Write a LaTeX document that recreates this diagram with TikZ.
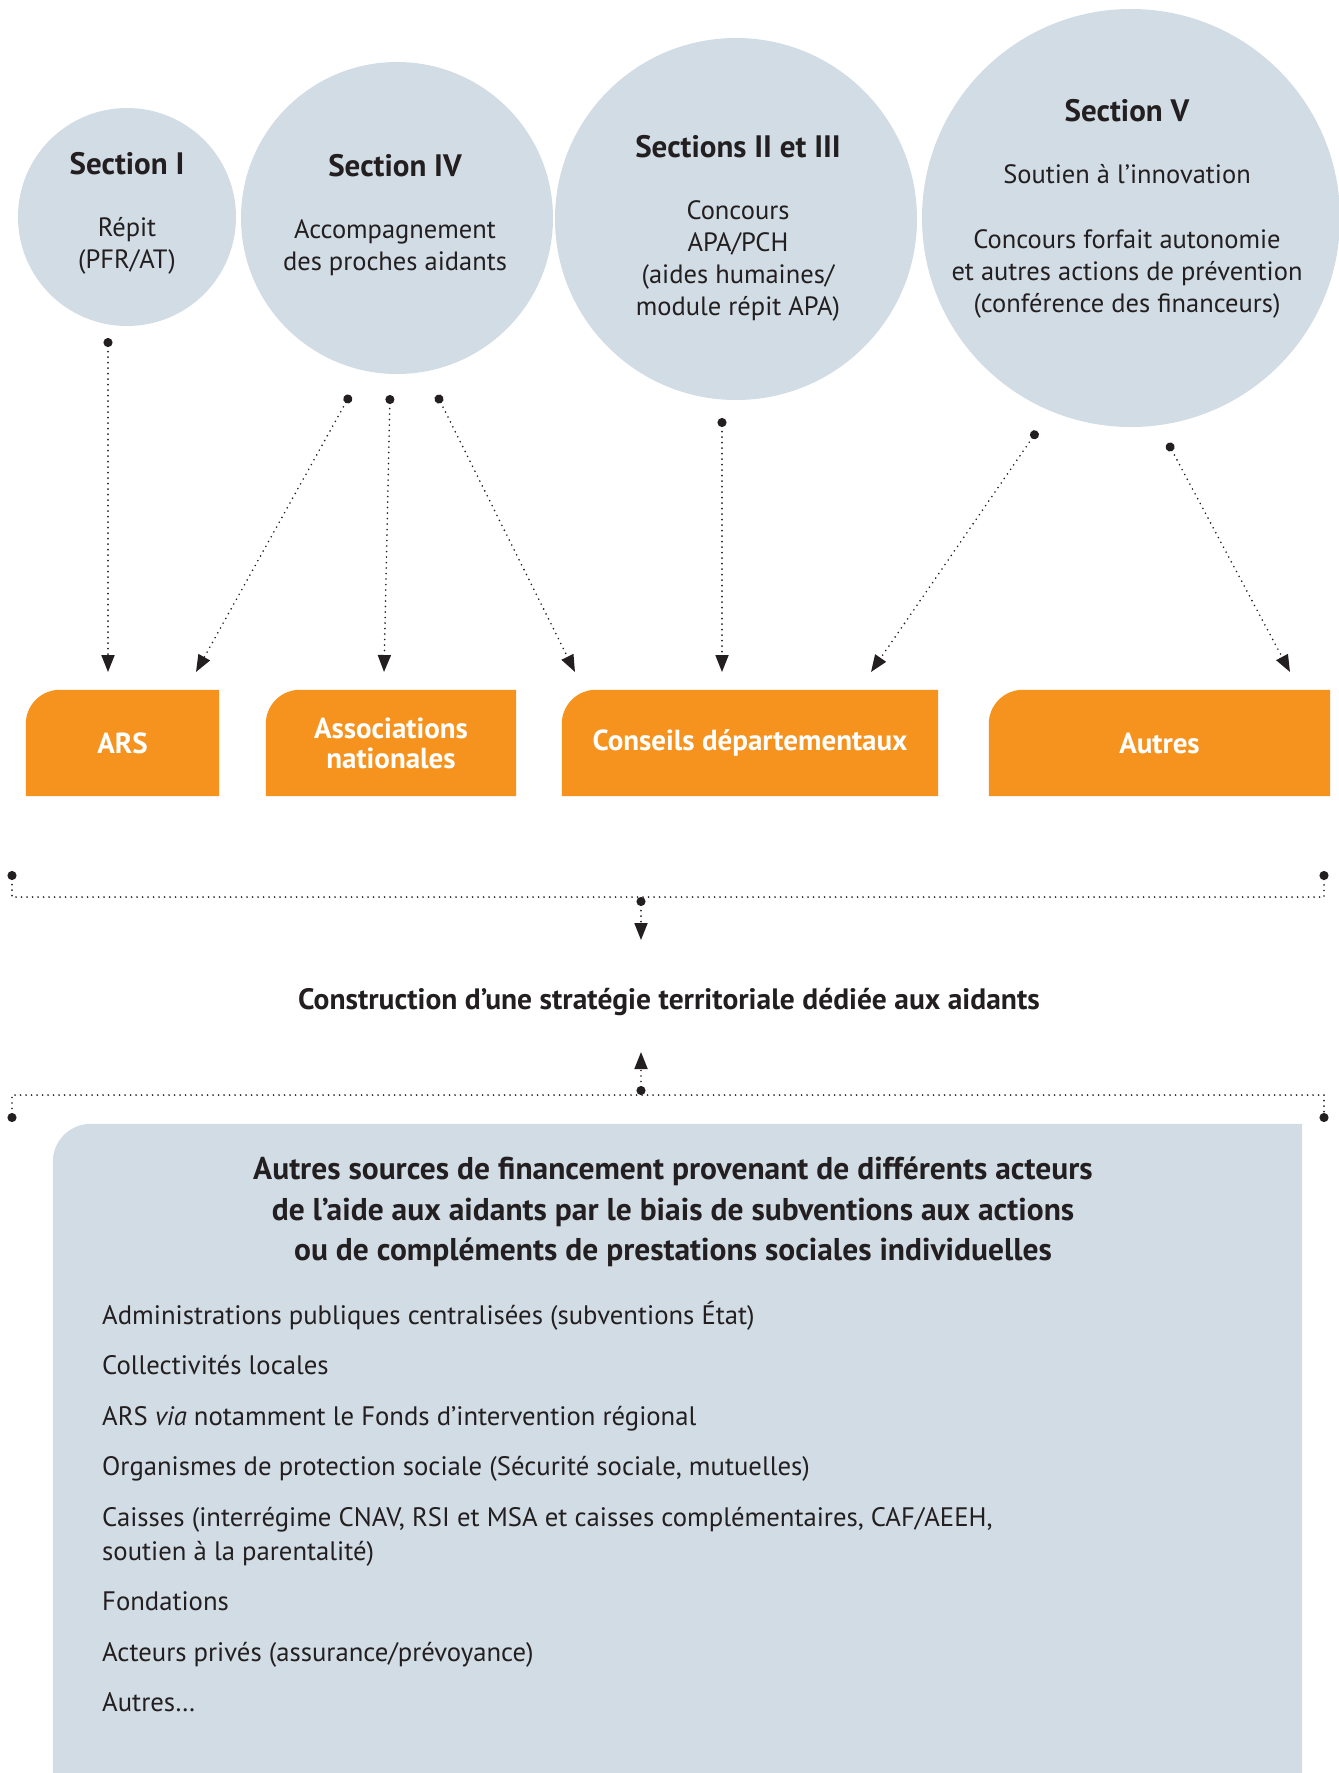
\documentclass[tikz,border=0pt]{standalone}
\usepackage{fontspec}
\setmainfont{PT Sans}
\usepackage{tikz}
\usetikzlibrary{arrows.meta,backgrounds}

\definecolor{bubblegray}{HTML}{D1DCE5}
\definecolor{boxorange}{HTML}{F6931F}
\definecolor{inkdark}{HTML}{231F20}
\newcommand{\sectitle}[1]{{\fontsize{31}{32}\selectfont\bfseries #1}}

\begin{document}
\begin{tikzpicture}[x=1pt,y=1pt,text=inkdark,>={Triangle[length=17pt,width=13pt]}]
    \tikzstyle{bubble}=[circle,fill=bubblegray,inner sep=0pt]
    \tikzstyle{bubble text}=[align=center,inner sep=0pt,font=\fontsize{26.5}{32}\selectfont]
    \tikzstyle{actor}=[minimum height=106pt,inner sep=0pt,align=center,text=white,font=\fontsize{29}{30}\selectfont\bfseries]
    \tikzstyle{flow}=[draw=inkdark,line width=1.8pt,line cap=round,dash pattern=on 0pt off 5.5pt,{Circle[length=9pt]}->]
    \tikzstyle{bracket}=[draw=inkdark,line width=1.8pt,line cap=round,dash pattern=on 0pt off 5.5pt,{Circle[length=9pt]}-{Circle[length=9pt]}]

    \useasboundingbox (0,0) rectangle (1339,-1773);

    % Draw the sections
    \node[bubble,minimum size=218pt] (S-1) at (127,-217) {};
    \node[bubble,minimum size=312pt] (S-4) at (397,-218) {};
    \node[bubble,minimum size=362pt] (S-23) at (736,-219) {};
    \node[bubble,minimum size=418pt] (S-5) at (1131,-218) {};

    \node[bubble text] (T-1) at (127,-213.5) {\sectitle{Section I}\\[30pt]Répit\\(PFR/AT)};
    \node[bubble text] (T-4) at (395,-215.5) {\sectitle{Section IV}\\[30pt]Accompagnement\\des proches aidants};
    \node[bubble text] (T-23) at (738,-228) {\sectitle{Sections II et III}\\[30pt]Concours\\APA/PCH\\(aides humaines/\\module répit APA)};
    \node[bubble text] (T-5) at (1127,-208.5) {\sectitle{Section V}\\[30pt]Soutien à l’innovation\\[33pt]Concours forfait autonomie\\et autres actions de prévention\\(conférence des financeurs)};

    % Draw the funders
    \node[actor,minimum width=193pt] (A-1) at (122.5,-743) {ARS};
    \node[actor,minimum width=250pt] (A-2) at (391,-743) {Associations\\nationales};
    \node[actor,minimum width=376pt] (A-3) at (750,-743) {Conseils départementaux};
    \node[actor,minimum width=341pt] (A-4) at (1159.5,-743) {Autres};

    % Arrows from the sections to the funders
    \coordinate (d-1) at (108,-338);  \coordinate (t-1) at (108,-672);
    \coordinate (d-2) at (350,-395);  \coordinate (t-2) at (196,-672);
    \coordinate (d-3) at (390,-395);  \coordinate (t-3) at (384,-672);
    \coordinate (d-4) at (437,-395);  \coordinate (t-4) at (575,-672);
    \coordinate (d-5) at (722,-418);  \coordinate (t-5) at (722,-672);
    \coordinate (d-6) at (1037,-431); \coordinate (t-6) at (871,-672);
    \coordinate (d-7) at (1168,-443); \coordinate (t-7) at (1290,-672);
    \foreach \i in {1,...,7}
        \path (d-\i) edge[flow] (t-\i);

    % Territorial strategy
    \node[font=\fontsize{29.5}{36}\selectfont\bfseries] (strat) at (669,-1002) {Construction d’une stratégie territoriale dédiée aux aidants};

    \coordinate (up-l) at (12,-871);    \coordinate (up-lc) at (12,-897);
    \coordinate (up-r) at (1324,-871);  \coordinate (up-rc) at (1324,-897);
    \coordinate (up-m) at (641,-897);   \coordinate (up-t) at (641,-940);
    \coordinate (lo-l) at (12,-1122);   \coordinate (lo-lc) at (12,-1095);
    \coordinate (lo-r) at (1324,-1122); \coordinate (lo-rc) at (1324,-1095);
    \coordinate (lo-m) at (641,-1095);  \coordinate (lo-t) at (641,-1052);
    \draw[bracket] (up-l) -- (up-lc) -- (up-rc) -- (up-r);
    \draw[bracket] (lo-l) -- (lo-lc) -- (lo-rc) -- (lo-r);
    \path (up-m) edge[flow] (up-t);
    \path (lo-m) edge[flow] (lo-t);

    % Other funding sources
    \node[minimum width=1249pt,minimum height=649pt,inner sep=0pt] (P) at (677.5,-1448.5) {};
    \node[align=center,font=\fontsize{31.5}{40.5}\selectfont\bfseries] (P-head) at (673,-1212) {Autres sources de financement provenant de différents acteurs\\de l’aide aux aidants par le biais de subventions aux actions\\ou de compléments de prestations sociales individuelles};
    \node[align=left,anchor=north west,inner sep=0pt,font=\fontsize{26.7}{34}\selectfont] (P-list) at (102,-1301) {Administrations publiques centralisées (subventions État)\\[16.5pt]
        Collectivités locales\\[16.5pt]
        ARS \textit{via} notamment le Fonds d’intervention régional\\[16.5pt]
        Organismes de protection sociale (Sécurité sociale, mutuelles)\\[16.5pt]
        Caisses (interrégime CNAV, RSI et MSA et caisses complémentaires, CAF/AEEH,\\
        soutien à la parentalité)\\[16.5pt]
        Fondations\\[16.5pt]
        Acteurs privés (assurance/prévoyance)\\[16.5pt]
        Autres…};

    \begin{pgfonlayer}{background}
        \foreach \n in {A-1,A-2,A-3,A-4}
            \fill[boxorange] (\n.south east) -- (\n.south west) -- ([yshift=-34pt]\n.north west)
                arc[start angle=180,end angle=90,radius=34pt] -- (\n.north east) -- cycle;
        \fill[bubblegray] (P.south east) -- (P.south west) -- ([yshift=-38pt]P.north west)
            arc[start angle=180,end angle=90,radius=38pt] -- (P.north east) -- cycle;
    \end{pgfonlayer}
\end{tikzpicture}
\end{document}
